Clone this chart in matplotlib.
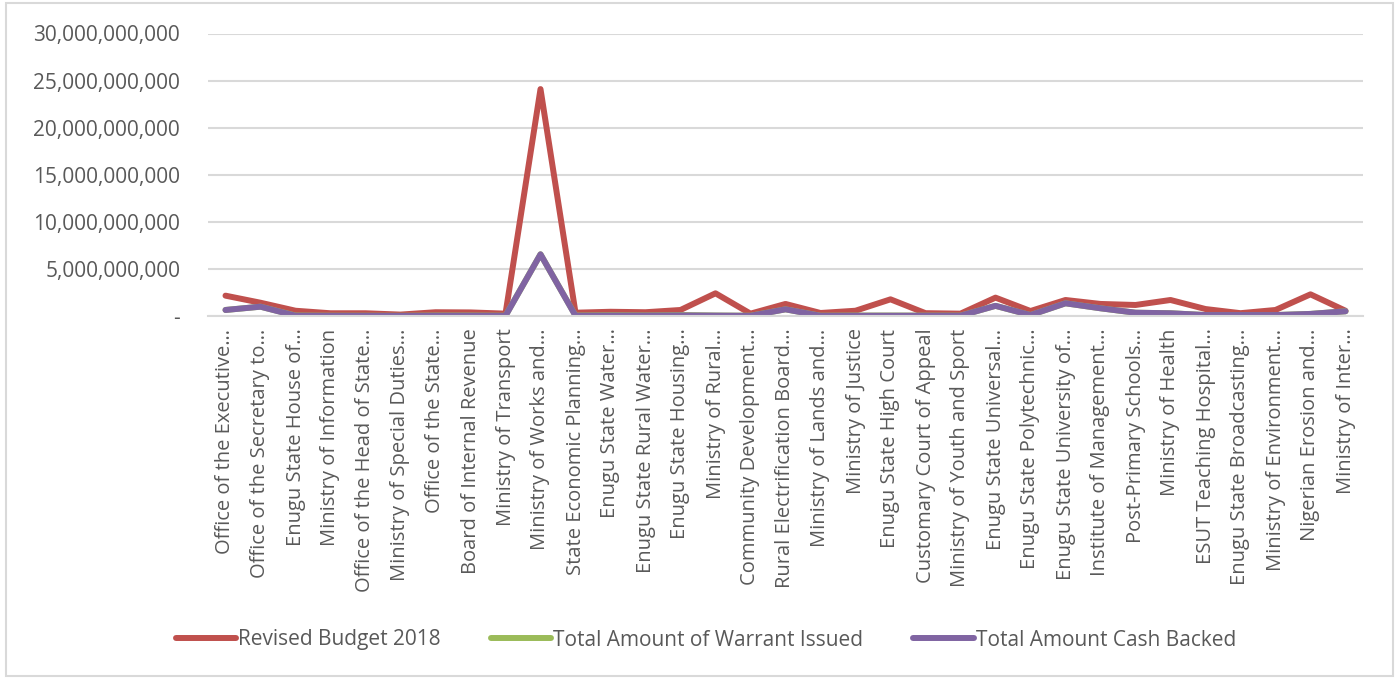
import matplotlib.pyplot as plt
from matplotlib.patches import Rectangle
from matplotlib.ticker import FuncFormatter

# Ministries, departments and agencies (labels shortened as in the report)
mdas = [
    "Office of the Executive…", "Office of the Secretary to…", "Enugu State House of…",
    "Ministry of Information", "Office of the Head of State…", "Ministry of Special Duties…",
    "Office of the State…", "Board of Internal Revenue", "Ministry of Transport",
    "Ministry of Works and…", "State Economic Planning…", "Enugu State Water…",
    "Enugu State Rural Water…", "Enugu State Housing…", "Ministry of Rural…",
    "Community Development…", "Rural Electrification Board…", "Ministry of Lands and…",
    "Ministry of Justice", "Enugu State High Court", "Customary Court of Appeal",
    "Ministry of Youth and Sport", "Enugu State Universal…", "Enugu State Polytechnic…",
    "Enugu State University of…", "Institute of Management…", "Post-Primary Schools…",
    "Ministry of Health", "ESUT Teaching Hospital…", "Enugu State Broadcasting…",
    "Ministry of Environment…", "Nigerian Erosion and…", "Ministry of Inter…",
]

# Amounts in naira
revised_budget = [
    2.16e9, 1.41e9, 0.56e9, 0.29e9, 0.29e9, 0.15e9, 0.40e9, 0.38e9, 0.25e9,
    24.1e9, 0.35e9, 0.45e9, 0.40e9, 0.64e9, 2.41e9, 0.25e9, 1.28e9, 0.32e9,
    0.56e9, 1.77e9, 0.30e9, 0.25e9, 1.95e9, 0.53e9, 1.70e9, 1.28e9, 1.17e9,
    1.70e9, 0.74e9, 0.30e9, 0.64e9, 2.30e9, 0.56e9,
]
warrant_issued = [
    0.64e9, 0.99e9, 0.05e9, 0.03e9, 0.03e9, 0.02e9, 0.05e9, 0.05e9, 0.03e9,
    6.55e9, 0.05e9, 0.08e9, 0.06e9, 0.10e9, 0.05e9, 0.03e9, 0.71e9, 0.03e9,
    0.05e9, 0.05e9, 0.04e9, 0.04e9, 1.08e9, 0.10e9, 1.35e9, 0.82e9, 0.35e9,
    0.29e9, 0.10e9, 0.10e9, 0.10e9, 0.22e9, 0.50e9,
]
cash_backed = [
    0.64e9, 0.99e9, 0.03e9, 0.02e9, 0.02e9, 0.01e9, 0.03e9, 0.03e9, 0.02e9,
    6.55e9, 0.03e9, 0.04e9, 0.04e9, 0.06e9, 0.04e9, 0.02e9, 0.71e9, 0.02e9,
    0.03e9, 0.03e9, 0.03e9, 0.03e9, 1.08e9, 0.10e9, 1.35e9, 0.82e9, 0.35e9,
    0.29e9, 0.10e9, 0.10e9, 0.10e9, 0.22e9, 0.50e9,
]

plt.rcParams['font.family'] = ['Open Sans', 'DejaVu Sans']
texto = '#595959'
rejilla = '#D9D9D9'

fig = plt.figure(figsize=(13.98, 6.79), dpi=100, facecolor='white')

# marco del grafico
fig.patches.append(Rectangle((6 / 1398, 3 / 679), 1387 / 1398, 673 / 679,
                             transform=fig.transFigure, fill=False,
                             edgecolor=rejilla, linewidth=1.5))

ax = fig.add_axes([208 / 1398, 1 - 316 / 679, 1155 / 1398, (316 - 33.5) / 679])

x = list(range(len(mdas)))
ax.plot(x, revised_budget, color='#C0504D', linewidth=4.3,
        solid_joinstyle='round', solid_capstyle='round', label='Revised Budget 2018')
ax.plot(x, warrant_issued, color='#9BBB59', linewidth=4.3,
        solid_joinstyle='round', solid_capstyle='round', label='Total Amount of Warrant Issued')
ax.plot(x, cash_backed, color='#8064A2', linewidth=4.3,
        solid_joinstyle='round', solid_capstyle='round', label='Total Amount Cash Backed')

ax.set_xlim(-0.5, len(mdas) - 0.5)
ax.set_ylim(0, 30e9)
ax.set_yticks([0, 5e9, 10e9, 15e9, 20e9, 25e9, 30e9])
ax.yaxis.set_major_formatter(FuncFormatter(lambda v, p: '-' if v == 0 else f'{v:,.0f}'))
ax.set_xticks(x)
ax.set_xticklabels(mdas, rotation=90, ha='center', va='top')

ax.grid(axis='y', color=rejilla, linewidth=1.5)
ax.set_axisbelow(True)
for lado in ['top', 'right', 'left']:
    ax.spines[lado].set_visible(False)
ax.spines['bottom'].set_color(rejilla)
ax.spines['bottom'].set_linewidth(1.5)
ax.tick_params(axis='y', length=0, pad=20, labelsize=15, labelcolor=texto)
ax.tick_params(axis='x', length=0, pad=9, labelsize=14.5, labelcolor=texto)

fig.legend(loc='center', bbox_to_anchor=(0.505, 1 - 640 / 679), ncol=3, frameon=False,
           fontsize=15, labelcolor=texto, handlelength=2.9, handletextpad=0.1,
           columnspacing=2.4)

fig.savefig('out.png', dpi=100, facecolor='white')
